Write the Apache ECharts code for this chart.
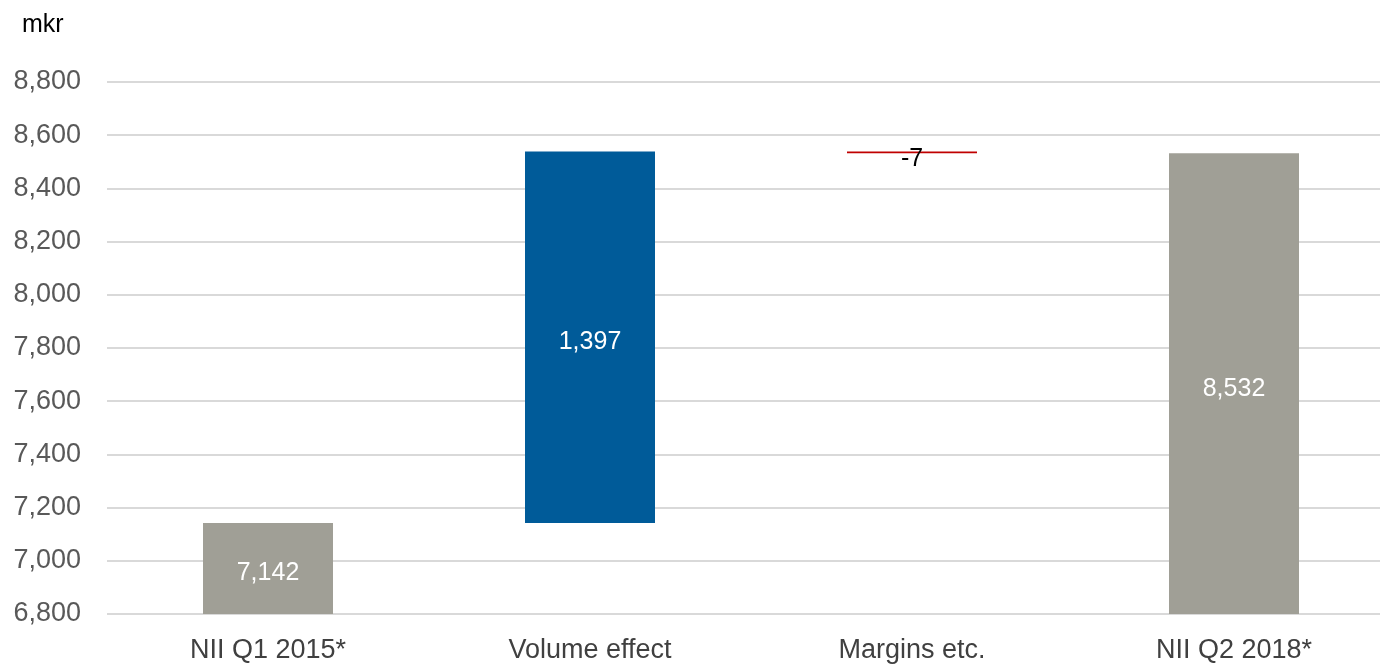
<!DOCTYPE html>
<html>
<head>
<meta charset="utf-8">
<script src="https://cdn.jsdelivr.net/npm/echarts@6/dist/echarts.min.js"></script>
<style>
  html, body { margin: 0; padding: 0; background: #ffffff; overflow: hidden; }
  #chart { width: 1400px; height: 664px; }
</style>
</head>
<body>
<div id="chart"></div>
<script>
// Net interest income bridge (mkr)
const categories = ['NII Q1 2015*', 'Volume effect', 'Margins etc.', 'NII Q2 2018*'];
const values = [7142, 1397, -7, 8532];
const kinds = ['total', 'delta', 'delta', 'total'];
const yTicks = { min: 6800, max: 8800, interval: 200 };

const colors = { total: '#a09f96', up: '#005b99', down: '#c00000' };
const font = 'Liberation Sans, Arial, sans-serif';

// Build invisible base + visible segment for each step
const base = [];
const seg = [];
let running = 0;
values.forEach((v, i) => {
  if (kinds[i] === 'total') {
    base.push(0);
    seg.push({ value: v, itemStyle: { color: colors.total }, label: { color: '#ffffff' } });
    running = v;
  } else if (v >= 0) {
    base.push(running);
    seg.push({ value: v, itemStyle: { color: colors.up }, label: { color: '#ffffff' } });
    running += v;
  } else {
    running += v;
    base.push(running);
    seg.push({ value: -v, itemStyle: { color: colors.down },
      label: { color: '#000000', offset: [0, 7] } });
  }
});

const chart = echarts.init(document.getElementById('chart'));
chart.setOption({
  animation: false,
  textStyle: { fontFamily: font },
  title: {
    text: 'mkr', left: 17, top: 8,
    textStyle: { fontSize: 25, fontWeight: 'normal', color: '#000000', fontFamily: font }
  },
  // plot area runs slightly past the right edge of the visible page
  grid: { left: 107, right: 5, top: 82, bottom: 50, containLabel: false },
  xAxis: {
    type: 'category',
    data: categories,
    axisLine: { show: false },
    axisTick: { show: false },
    axisLabel: { fontSize: 27, color: '#404040', margin: 23 }
  },
  yAxis: {
    type: 'value',
    min: yTicks.min, max: yTicks.max, interval: yTicks.interval,
    axisLine: { show: false },
    axisTick: { show: false },
    axisLabel: {
      fontSize: 27, color: '#595959', margin: 26,
      formatter: v => v.toLocaleString('en-US')
    },
    splitLine: { lineStyle: { color: '#d9d9d9', width: 2 } }
  },
  series: [
    {
      type: 'bar', stack: 'w', data: base, barWidth: 130,
      itemStyle: { color: 'transparent' }, silent: true
    },
    {
      type: 'bar', stack: 'w', data: seg, barWidth: 130,
      label: {
        show: true, position: 'inside', fontSize: 25, offset: [0, 5],
        formatter: p => values[p.dataIndex].toLocaleString('en-US')
      }
    }
  ]
});
</script>
</body>
</html>
